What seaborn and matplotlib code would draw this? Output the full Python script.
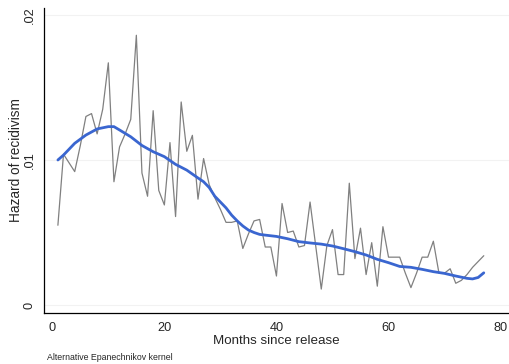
import numpy as np
import pandas as pd
import matplotlib
matplotlib.use("Agg")
import matplotlib.pyplot as plt
import seaborn as sns

# Raw hazard (gray) by month since release
months = list(range(1, 78))
hazard = [
    0.0055, 0.0104, 0.0098, 0.0092, 0.0110, 0.0130, 0.0132, 0.0118, 0.0135, 0.0167,
    0.0085, 0.0109, 0.0118, 0.0128, 0.0186, 0.0091, 0.0075, 0.0134, 0.0079, 0.0069,
    0.0112, 0.0061, 0.0140, 0.0106, 0.0117, 0.0073, 0.0101, 0.0083, 0.0074, 0.0066,
    0.0057, 0.0057, 0.0058, 0.0039, 0.0049, 0.0058, 0.0059, 0.0040, 0.0040, 0.0020,
    0.0070, 0.0050, 0.0051, 0.0040, 0.0041, 0.0071, 0.0041, 0.0011, 0.0041, 0.0052,
    0.0021, 0.0021, 0.0084, 0.0032, 0.0053, 0.0021, 0.0043, 0.0013, 0.0054, 0.0033,
    0.0033, 0.0033, 0.0022, 0.0012, 0.0022, 0.0033, 0.0033, 0.0044, 0.0022, 0.0022,
    0.0025, 0.0015, 0.0017, 0.0021, 0.0026, 0.0030, 0.0034,
]

# Smoothed hazard (blue)
smooth_months = [1, 2, 4, 6, 8, 10, 11, 12, 14, 16, 18, 20, 22, 24, 26, 27, 28, 29,
                 30, 31, 32, 33, 34, 35, 36, 37, 38, 40, 42, 44, 46, 48, 50, 52, 54,
                 56, 58, 60, 62, 64, 66, 68, 70, 72, 74, 75, 76, 77]
smooth_hazard = [0.0100, 0.01034, 0.01115, 0.01172, 0.01214, 0.0123, 0.0123, 0.01207,
                 0.0116, 0.0110, 0.01057, 0.01023, 0.0097, 0.0093, 0.00876, 0.0085,
                 0.0081, 0.0075, 0.0071, 0.0067, 0.0062, 0.0058, 0.00545, 0.00517,
                 0.0050, 0.00487, 0.00482, 0.00473, 0.00457, 0.00437, 0.00428, 0.0042,
                 0.00407, 0.00388, 0.00368, 0.00345, 0.00315, 0.00292, 0.00266, 0.0026,
                 0.00246, 0.0023, 0.00218, 0.0020, 0.00184, 0.0018, 0.0019, 0.00222]

xticks = [0, 20, 40, 60, 80]
yticks = [0, 0.01, 0.02]
ytick_labels = ["0", ".01", ".02"]

sns.set_style("white")
plt.rcParams["font.family"] = ["Liberation Sans", "DejaVu Sans"]

fig = plt.figure(figsize=(5.09, 3.64), dpi=100)
ax = fig.add_axes([44 / 509, 51 / 364, 465 / 509, 305 / 364])

raw = pd.DataFrame({"month": months, "hazard": hazard})
sm = pd.DataFrame({"month": smooth_months, "hazard": smooth_hazard})

for yv in yticks:
    ax.axhline(yv, color="#f2f2f2", lw=0.8, zorder=0)

sns.lineplot(data=raw, x="month", y="hazard", ax=ax, color="#808080", lw=0.9, zorder=2)
sns.lineplot(data=sm, x="month", y="hazard", ax=ax, color="#3a66d0", lw=2.0, zorder=3)

ax.set_xlim(-1.48, 81.5)
ax.set_ylim(-0.00055, 0.02048)
ax.set_xticks(xticks)
ax.set_xticklabels([str(v) for v in xticks], fontsize=9.2)
ax.set_yticks(yticks)
ax.set_yticklabels(ytick_labels, fontsize=9.2, rotation=90, va="center")
ax.tick_params(axis="both", direction="out", length=4, width=0.8, color="black", pad=2)
ax.tick_params(axis="x", length=5, pad=1.5)

ax.set_xlabel("Months since release", fontsize=9.6, labelpad=0.5)
ax.set_ylabel("Hazard of recidivism", fontsize=9.8)
ax.yaxis.set_label_coords(-0.045, 0.5)

for side in ["top", "right"]:
    ax.spines[side].set_visible(False)
for side in ["left", "bottom"]:
    ax.spines[side].set_color("black")
    ax.spines[side].set_linewidth(0.9)

fig.text(47 / 509, 1 - 357 / 364, "Alternative Epanechnikov kernel", fontsize=6.3,
         va="center", ha="left")

fig.savefig("out.png", dpi=100)
